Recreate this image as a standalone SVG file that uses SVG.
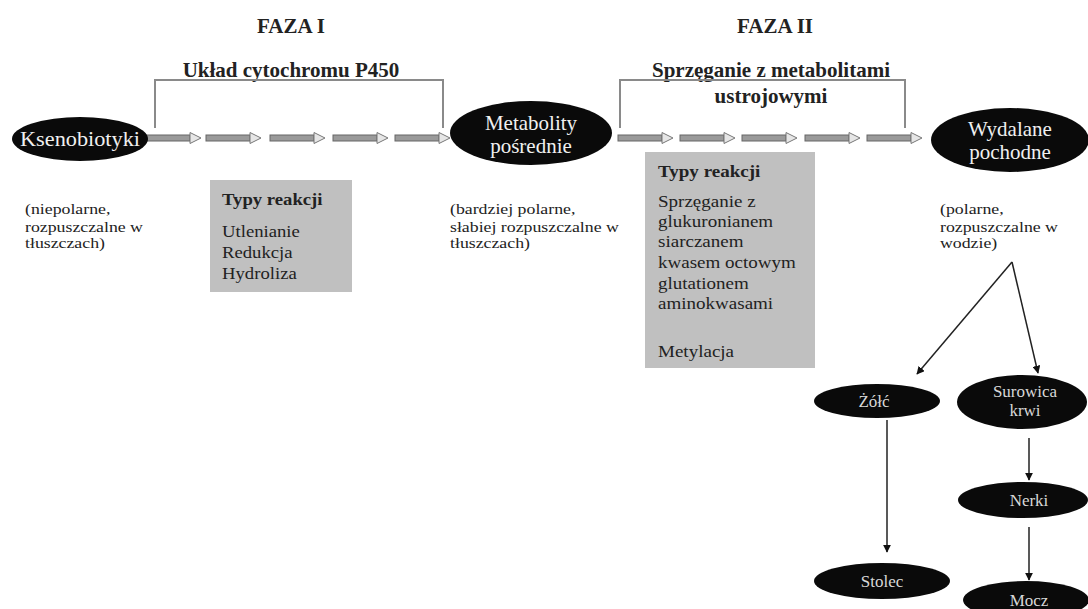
<svg xmlns="http://www.w3.org/2000/svg" xmlns:xlink="http://www.w3.org/1999/xlink" width="1088" height="609" viewBox="0 0 1088 609">
<style>
text{font-family:"Liberation Serif","Times New Roman",serif;fill:#222}
.h{font-weight:bold;font-size:21px}
.sub{font-weight:bold;font-size:21px}
.w{fill:#f0f0f0;font-size:21px;text-anchor:middle}
.ws{fill:#d8d8d8;font-size:17px;text-anchor:middle}
.s{font-size:14px}
.b{font-size:17px}
.bt{font-size:17px;font-weight:bold}
.el{fill:#0a0a0a}
.box{fill:#c0c0c0}
.br{fill:none;stroke:#8a8a8a;stroke-width:2}
.ln{stroke:#222;stroke-width:1.5;fill:none;marker-end:url(#ah)}
</style>
<defs>
<marker id="ah" viewBox="0 0 10 10" refX="9" refY="5" markerWidth="8" markerHeight="8" markerUnits="userSpaceOnUse" orient="auto">
<path d="M0,0 L10,5 L0,10 Z" fill="#111"/>
</marker>
<g id="ba">
<rect x="0" y="-3" width="44" height="6" fill="#9a9a9a" stroke="#666" stroke-width="1"/>
<path d="M44,-5.5 L55,0 L44,5.5 Z" fill="#e6e6e6" stroke="#777" stroke-width="1"/>
</g>
</defs>
<rect width="1088" height="609" fill="#fff"/>

<g id="titles">
<text class="h" x="291" y="33" text-anchor="middle">FAZA I</text>
<text class="h" x="775" y="33" text-anchor="middle">FAZA II</text>
<text class="sub" x="291" y="77" text-anchor="middle">Układ cytochromu P450</text>
<text class="sub" x="771" y="77" text-anchor="middle">Sprzęganie z metabolitami</text>
<text class="sub" x="771" y="103" text-anchor="middle">ustrojowymi</text>
</g>

<g id="connectors">
<path class="br" d="M155,128 V80 H443 V128"/>
<path class="br" d="M620,128 V80 H905 V128"/>
<use xlink:href="#ba" transform="translate(146,138)"/>
<use xlink:href="#ba" transform="translate(206,138)"/>
<use xlink:href="#ba" transform="translate(270,138)"/>
<use xlink:href="#ba" transform="translate(333,138)"/>
<use xlink:href="#ba" transform="translate(395,138)"/>
<use xlink:href="#ba" transform="translate(618,138)"/>
<use xlink:href="#ba" transform="translate(680,138)"/>
<use xlink:href="#ba" transform="translate(742,138)"/>
<use xlink:href="#ba" transform="translate(805,138)"/>
<use xlink:href="#ba" transform="translate(867,138)"/>
<path class="ln" d="M1012,262 L917,374"/>
<path class="ln" d="M1012,262 L1038,373"/>
<path class="ln" d="M887,420 V552"/>
<path class="ln" d="M1029,438 V480"/>
<path class="ln" d="M1029,527 V580"/>
</g>

<g id="n-ksenobiotyki">
<ellipse class="el" cx="80" cy="139" rx="68" ry="22"/>
<text class="w" x="80" y="146" textLength="120" lengthAdjust="spacingAndGlyphs">Ksenobiotyki</text>
</g>
<g id="n-ksenobiotyki-opis" transform="translate(25,0) scale(1.27,1)">
<text class="s" x="0" y="214">(niepolarne,</text>
<text class="s" x="0" y="232">rozpuszczalne w</text>
<text class="s" x="0" y="248">tłuszczach)</text>
</g>

<g id="n-metabolity">
<ellipse class="el" cx="531" cy="133" rx="81" ry="32"/>
<text class="w" x="531" y="130">Metabolity</text>
<text class="w" x="531" y="153">pośrednie</text>
</g>
<g id="n-metabolity-opis" transform="translate(450,0) scale(1.27,1)">
<text class="s" x="0" y="214">(bardziej polarne,</text>
<text class="s" x="0" y="232">słabiej rozpuszczalne w</text>
<text class="s" x="0" y="248">tłuszczach)</text>
</g>

<g id="n-wydalane">
<ellipse class="el" cx="1010" cy="140" rx="79" ry="32"/>
<text class="w" x="1010" y="136">Wydalane</text>
<text class="w" x="1010" y="159">pochodne</text>
</g>
<g id="n-wydalane-opis" transform="translate(940,0) scale(1.27,1)">
<text class="s" x="0" y="214">(polarne,</text>
<text class="s" x="0" y="232">rozpuszczalne w</text>
<text class="s" x="0" y="248">wodzie)</text>
</g>

<g id="n-typy1">
<rect class="box" x="210" y="180" width="142" height="112"/>
<g transform="translate(222,0) scale(1.1,1)">
<text class="bt" x="0" y="205">Typy reakcji</text>
<text class="b" x="0" y="237">Utlenianie</text>
<text class="b" x="0" y="258">Redukcja</text>
<text class="b" x="0" y="279">Hydroliza</text>
</g>
</g>

<g id="n-typy2">
<rect class="box" x="645" y="152" width="170" height="216"/>
<g transform="translate(658,0) scale(1.12,1)">
<text class="bt" x="0" y="177">Typy reakcji</text>
<text class="b" x="0" y="207">Sprzęganie z</text>
<text class="b" x="0" y="227">glukuronianem</text>
<text class="b" x="0" y="247">siarczanem</text>
<text class="b" x="0" y="268">kwasem octowym</text>
<text class="b" x="0" y="289">glutationem</text>
<text class="b" x="0" y="309">aminokwasami</text>
<text class="b" x="0" y="357">Metylacja</text>
</g>
</g>

<g id="n-zolc">
<ellipse class="el" cx="877" cy="401" rx="63" ry="17"/>
<text class="ws" x="874" y="407">Żółć</text>
</g>
<g id="n-surowica">
<ellipse class="el" cx="1022" cy="402" rx="65" ry="27"/>
<text class="ws" x="1025" y="397">Surowica</text>
<text class="ws" x="1025" y="416">krwi</text>
</g>
<g id="n-nerki">
<ellipse class="el" cx="1023" cy="500" rx="65" ry="18"/>
<text class="ws" x="1029" y="506">Nerki</text>
</g>
<g id="n-stolec">
<ellipse class="el" cx="882" cy="581" rx="68" ry="18"/>
<text class="ws" x="882" y="587">Stolec</text>
</g>
<g id="n-mocz">
<ellipse class="el" cx="1026" cy="600" rx="63" ry="19"/>
<text class="ws" x="1029" y="606">Mocz</text>
</g>
</svg>
